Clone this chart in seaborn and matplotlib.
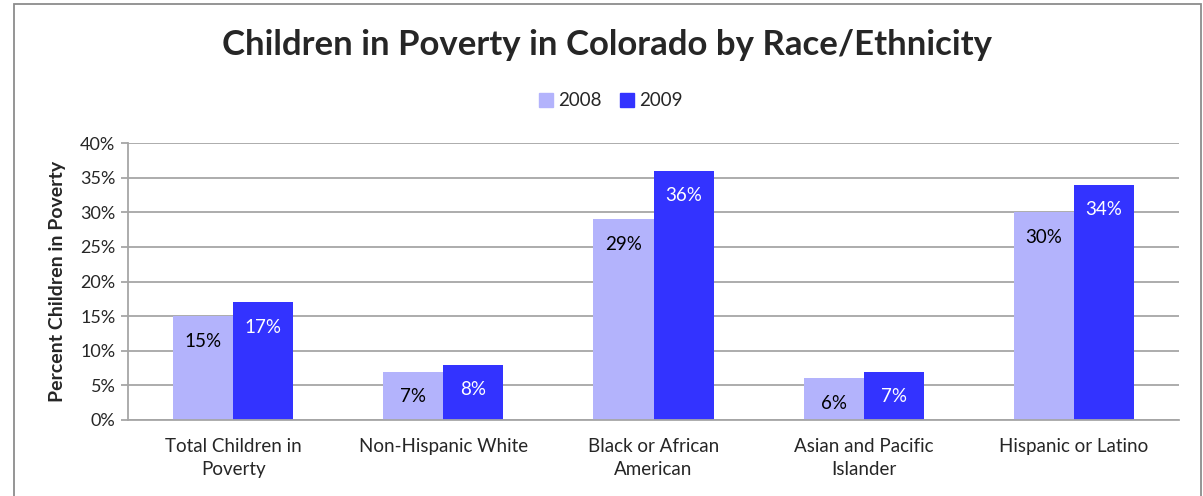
import pandas as pd
import numpy as np
import matplotlib.pyplot as plt
import seaborn as sns
from matplotlib.patches import Rectangle
from matplotlib.ticker import FuncFormatter, FixedLocator

categories = ['Total Children in\nPoverty', 'Non-Hispanic White', 'Black or African\nAmerican',
              'Asian and Pacific\nIslander', 'Hispanic or Latino']
years = ['2008', '2009']
values_2008 = [15, 7, 29, 6, 30]
values_2009 = [17, 8, 36, 7, 34]

df = pd.DataFrame({
    'group': categories * 2,
    'year': ['2008'] * 5 + ['2009'] * 5,
    'pct': values_2008 + values_2009,
})

sns.set_style('white')
plt.rcParams['font.family'] = ['Lato', 'DejaVu Sans']

fig = plt.figure(figsize=(12.03, 4.96), dpi=100)
ax = fig.add_axes([128 / 1203, 76 / 496, (1179 - 128) / 1203, (420 - 143) / 496])

palette = {'2008': '#b3b3fc', '2009': '#3333ff'}
sns.barplot(data=df, x='group', y='pct', hue='year', palette=palette, width=0.572,
            saturation=1, linewidth=0, ax=ax, legend=False)

ax.set_ylim(0, 40)
ax.set_xlim(-0.5, 4.5)
ax.set_yticks(np.arange(0, 41, 5))
ax.yaxis.set_major_formatter(FuncFormatter(lambda v, p: f'{int(v)}%'))
ax.grid(axis='y', color='#a6a6a6', linewidth=1.3)
ax.set_axisbelow(True)
for s in ['top', 'right']:
    ax.spines[s].set_visible(False)
for s in ['left', 'bottom']:
    ax.spines[s].set_color('#a6a6a6')
    ax.spines[s].set_linewidth(1.3)

ax.tick_params(axis='x', which='major', length=0, pad=13, labelsize=13.5)
for lbl in ax.get_xticklabels():
    lbl.set_linespacing(1.45)
ax.xaxis.set_minor_locator(FixedLocator(np.arange(-0.5, 5, 1)))
ax.tick_params(axis='x', which='minor', length=5, color='#a6a6a6', width=1.3, direction='out')
ax.tick_params(axis='y', length=5, color='#a6a6a6', width=1.3, direction='out', labelsize=13, pad=4)
ax.tick_params(axis='y', which='major', left=True)
ax.set_xlabel('')
ax.set_ylabel('Percent Children in Poverty', fontsize=14, fontweight='bold', labelpad=10)

label_colors = ['black', 'white']
for cont, col in zip(ax.containers, label_colors):
    for bar in cont:
        h = bar.get_height()
        ax.annotate(f'{int(h)}%', xy=(bar.get_x() + bar.get_width() / 2, h),
                    xytext=(0, -18), textcoords='offset points',
                    ha='center', va='center', color=col, fontsize=13.5)

handles = [Rectangle((0, 0), 1, 1, color=palette[y]) for y in years]
fig.legend(handles, years, loc='center', bbox_to_anchor=(611 / 1203, 1 - 101 / 496), ncol=2,
           frameon=False, fontsize=13.5, handlelength=0.7, handleheight=0.7,
           handletextpad=0.3, columnspacing=1.0)

fig.text(607 / 1203, 1 - 45 / 496, 'Children in Poverty in Colorado by Race/Ethnicity',
         ha='center', va='center', fontsize=25, fontweight='bold')

fig.patches.append(Rectangle((14 / 1203, -0.1), (1201 - 14) / 1203, 1.1 - 4 / 496,
                             transform=fig.transFigure, fill=False, edgecolor='#8c8c8c',
                             linewidth=1.3))

fig.savefig('out.png', dpi=100)
